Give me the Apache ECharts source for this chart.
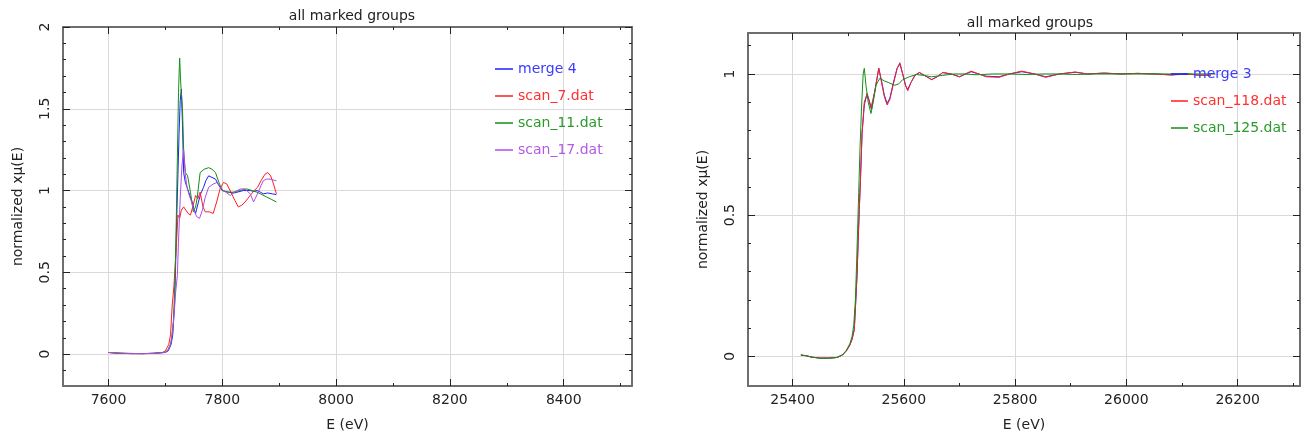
<!DOCTYPE html>
<html>
<head>
<meta charset="utf-8">
<script src="https://cdn.jsdelivr.net/npm/echarts@6/dist/echarts.min.js"></script>
<style>
html,body{margin:0;padding:0;background:#fff;}
#chart{width:1302px;height:437px;}
</style>
</head>
<body>
<div id="chart"></div>
<script>
// ---------- Left panel (Co K-edge region) ----------
const leftTitle = "all marked groups";
const leftXTicks = [7600, 7800, 8000, 8200, 8400];
const leftXMinor = [7600, 7700, 7800, 7900, 8000, 8100, 8200, 8300, 8400, 8500];
const leftYTicks = [0, 0.5, 1, 1.5, 2];
const leftYMinor = [-0.1, 0, 0.1, 0.2, 0.3, 0.4, 0.5, 0.6, 0.7, 0.8, 0.9, 1, 1.1, 1.2, 1.3, 1.4, 1.5, 1.6, 1.7, 1.8, 1.9, 2];

const merge4E = [7600,7620,7640,7660,7680,7700,7705,7710,7713,7716,7718,7720,7722,7724,7726,7728,7730,7732,7735,7738,7741,7744,7747,7750,7753,7758,7762,7767,7771,7776,7782,7788,7794,7800,7811,7820,7826,7837,7849,7855,7861,7867,7872,7880,7888,7895];
const merge4V = [0.01,0.005,0.003,0.003,0.005,0.01,0.02,0.06,0.12,0.3,0.55,0.85,1.1,1.35,1.55,1.62,1.4,1.11,1.05,1.02,0.99,0.96,0.93,0.89,0.86,0.93,0.98,1.02,1.06,1.09,1.08,1.07,1.03,1.0,0.99,0.985,0.99,1.0,1.0,0.995,1.0,0.99,0.98,0.985,0.98,0.975];

const scan7E = [7600,7620,7640,7660,7680,7695,7700,7703,7706,7709,7712,7715,7719,7722,7725,7728,7732,7736,7740,7744,7748,7753,7757,7761,7766,7770,7777,7784,7790,7796,7802,7808,7815,7822,7828,7834,7840,7849,7856,7862,7868,7875,7880,7885,7890,7895];
const scan7V = [0.01,0.005,0.003,0.003,0.005,0.01,0.02,0.03,0.06,0.12,0.3,0.42,0.65,0.85,0.83,0.88,0.9,0.88,0.86,0.85,0.9,0.97,0.95,0.99,0.9,0.87,0.87,0.86,0.93,1.01,1.05,1.04,0.99,0.94,0.9,0.91,0.93,0.97,1.0,1.02,1.06,1.1,1.11,1.09,1.04,0.98];

const scan11E = [7600,7620,7640,7660,7680,7700,7705,7710,7714,7717,7719,7721,7723,7725,7727,7730,7732,7735,7739,7744,7749,7753,7756,7761,7768,7776,7782,7788,7794,7800,7810,7819,7830,7843,7852,7861,7870,7878,7887,7895];
const scan11V = [0.01,0.005,0.004,0.003,0.005,0.012,0.03,0.07,0.2,0.45,0.8,1.2,1.6,1.81,1.65,1.5,1.25,1.11,1.09,0.99,0.87,0.9,0.96,1.11,1.13,1.14,1.13,1.11,1.05,1.0,0.99,0.99,1.0,1.01,1.0,0.99,0.975,0.96,0.945,0.93];

const scan17E = [7600,7620,7640,7660,7680,7700,7705,7709,7713,7716,7718,7721,7723,7726,7729,7732,7735,7738,7741,7746,7750,7755,7760,7765,7770,7776,7784,7791,7797,7802,7808,7814,7820,7826,7833,7840,7849,7855,7863,7868,7872,7878,7884,7889,7895];
const scan17V = [0.01,0.006,0.004,0.003,0.004,0.01,0.025,0.06,0.15,0.28,0.38,0.48,0.69,0.95,1.15,1.25,1.1,1.02,0.98,0.93,0.88,0.84,0.83,0.88,0.96,1.02,1.04,1.05,1.02,1.0,0.985,0.97,0.985,1.0,1.01,1.01,0.98,0.93,0.99,1.03,1.06,1.07,1.07,1.065,1.06];

// ---------- Right panel (Sb K-edge region) ----------
const rightTitle = "all marked groups";
const rightXTicks = [25400, 25600, 25800, 26000, 26200];
const rightXMinor = [25400, 25500, 25600, 25700, 25800, 25900, 26000, 26100, 26200, 26300];
const rightYTicks = [0, 0.5, 1];
const rightYMinor = [0, 0.1, 0.2, 0.3, 0.4, 0.5, 0.6, 0.7, 0.8, 0.9, 1, 1.1];

const merge3E = [25415,25425,25435,25450,25465,25480,25490,25497,25503,25507,25511,25513,25516,25518,25520,25522,25525,25529,25534,25538,25542,25548,25555,25560,25565,25570,25575,25582,25588,25593,25598,25603,25607,25613,25620,25628,25637,25650,25660,25670,25685,25700,25721,25748,25771,25790,25812,25835,25855,25880,25908,25930,25960,25990,26020,26050,26080,26110,26130,26152];
const merge3V = [0.005,0.002,-0.003,-0.006,-0.006,-0.004,0.005,0.02,0.04,0.06,0.095,0.17,0.29,0.41,0.52,0.62,0.79,0.89,0.93,0.905,0.875,0.94,1.02,0.975,0.925,0.895,0.915,0.975,1.02,1.035,1.0,0.96,0.945,0.97,0.995,1.005,0.995,0.98,0.99,1.005,1.0,0.99,1.008,0.992,0.99,1.0,1.008,1.0,0.99,1.0,1.006,1.0,1.003,1.0,1.002,1.0,0.997,1.0,0.996,0.996];

const scan118E = [25415,25425,25435,25450,25465,25480,25490,25497,25503,25507,25511,25513,25516,25518,25520,25522,25525,25529,25534,25538,25541,25548,25555,25560,25565,25570,25575,25582,25588,25593,25598,25603,25607,25613,25620,25628,25637,25650,25660,25670,25685,25700,25721,25748,25771,25790,25812,25835,25855,25880,25908,25930,25960,25990,26020,26050,26080,26110,26130,26152];
const scan118V = [0.005,0.002,-0.003,-0.006,-0.006,-0.004,0.005,0.02,0.04,0.06,0.095,0.17,0.29,0.41,0.52,0.62,0.79,0.9,0.93,0.9,0.88,0.94,1.02,0.97,0.92,0.89,0.91,0.97,1.02,1.04,1.0,0.96,0.94,0.97,0.995,1.005,0.995,0.98,0.99,1.005,1.0,0.99,1.01,0.99,0.988,1.0,1.01,1.0,0.988,1.0,1.007,1.0,1.003,1.0,1.002,1.0,0.996,1.0,0.995,0.995];

const scan125E = [25415,25425,25435,25450,25465,25480,25490,25497,25503,25507,25510,25513,25515,25517,25519,25521,25524,25527,25529,25532,25536,25541,25545,25550,25557,25565,25572,25584,25591,25598,25610,25623,25635,25650,25670,25690,25710,25730,25760,25790,25820,25850,25880,25910,25940,25970,26000,26030,26060,26090,26120,26160];
const scan125V = [0.004,0.002,-0.003,-0.007,-0.007,-0.004,0.006,0.022,0.045,0.07,0.11,0.2,0.32,0.45,0.58,0.72,0.88,1.0,1.02,0.96,0.9,0.86,0.9,0.96,0.985,0.975,0.97,0.96,0.965,0.98,0.99,0.998,0.995,0.99,0.995,1.0,1.0,0.997,1.0,1.0,0.998,1.0,1.0,0.998,1.0,1.0,1.0,1.0,1.0,1.0,1.0,1.0];

// ---------- Styling ----------
const FONT = "DejaVu Sans";
const FS = 14;
const TXT = "#222";
const C_BLUE = "#1f1fff", C_RED = "#ff1f1f", C_GREEN = "#148f14", C_PURPLE = "#b04ce8";

function zip(xs, ys) { return xs.map((x, i) => [x, ys[i]]); }
function fmt(v) { return String(v); }

function mainX(grid, min, max, ticks, pos, withLabel, name) {
  return {
    type: 'value', gridIndex: grid, position: pos, min: min, max: max,
    axisLine: { show: true, onZero: false, lineStyle: { color: '#6e6e6e', width: 2 } },
    axisTick: { show: true, inside: true, length: 7, customValues: ticks, lineStyle: { color: '#222', width: 1 } },
    axisLabel: { show: withLabel, customValues: ticks, margin: 7, color: TXT, fontFamily: FONT, fontSize: FS, formatter: fmt },
    splitLine: { show: withLabel, lineStyle: { color: '#d9d9d9', width: 1 } },
    name: name || '', nameLocation: 'middle', nameGap: 32,
    nameTextStyle: { color: TXT, fontFamily: FONT, fontSize: FS }
  };
}
function minorX(grid, min, max, ticks, pos) {
  return {
    type: 'value', gridIndex: grid, position: pos, min: min, max: max,
    axisLine: { show: false, onZero: false },
    axisTick: { show: true, inside: true, length: 3, customValues: ticks, lineStyle: { color: '#222', width: 1 } },
    axisLabel: { show: false }, splitLine: { show: false }
  };
}
function mainY(grid, min, max, ticks, pos, withLabel, name) {
  return {
    type: 'value', gridIndex: grid, position: pos, min: min, max: max,
    axisLine: { show: true, onZero: false, lineStyle: { color: '#6e6e6e', width: 2 } },
    axisTick: { show: true, inside: true, length: 7, customValues: ticks, lineStyle: { color: '#222', width: 1 } },
    axisLabel: { show: withLabel, customValues: ticks, rotate: 90, margin: 11, color: TXT, fontFamily: FONT, fontSize: FS, formatter: fmt },
    splitLine: { show: withLabel, lineStyle: { color: '#d9d9d9', width: 1 } },
    name: name || '', nameLocation: 'middle', nameGap: 38, nameRotate: 90,
    nameTextStyle: { color: TXT, fontFamily: FONT, fontSize: FS }
  };
}
function minorY(grid, min, max, ticks, pos) {
  return {
    type: 'value', gridIndex: grid, position: pos, min: min, max: max,
    axisLine: { show: false, onZero: false },
    axisTick: { show: true, inside: true, length: 3, customValues: ticks, lineStyle: { color: '#222', width: 1 } },
    axisLabel: { show: false }, splitLine: { show: false }
  };
}

const LX = [7520, 8520], LY = [-0.195, 2.0];
const RX = [25320, 26312], RY = [-0.105, 1.145];

const xAxes = [
  mainX(0, LX[0], LX[1], leftXTicks, 'bottom', true, 'E (eV)'),
  minorX(0, LX[0], LX[1], leftXMinor, 'bottom'),
  mainX(0, LX[0], LX[1], leftXTicks, 'top', false),
  minorX(0, LX[0], LX[1], leftXMinor, 'top'),
  mainX(1, RX[0], RX[1], rightXTicks, 'bottom', true, 'E (eV)'),
  minorX(1, RX[0], RX[1], rightXMinor, 'bottom'),
  mainX(1, RX[0], RX[1], rightXTicks, 'top', false),
  minorX(1, RX[0], RX[1], rightXMinor, 'top')
];
const yAxes = [
  mainY(0, LY[0], LY[1], leftYTicks, 'left', true, 'normalized xμ(E)'),
  minorY(0, LY[0], LY[1], leftYMinor, 'left'),
  mainY(0, LY[0], LY[1], leftYTicks, 'right', false),
  minorY(0, LY[0], LY[1], leftYMinor, 'right'),
  mainY(1, RY[0], RY[1], rightYTicks, 'left', true, 'normalized xμ(E)'),
  minorY(1, RY[0], RY[1], rightYMinor, 'left'),
  mainY(1, RY[0], RY[1], rightYTicks, 'right', false),
  minorY(1, RY[0], RY[1], rightYMinor, 'right')
];

function line(name, xs, ys, color, xi, yi) {
  return {
    name: name, type: 'line', xAxisIndex: xi, yAxisIndex: yi,
    data: zip(xs, ys), showSymbol: false, symbol: 'none',
    lineStyle: { color: color, width: 1 }, itemStyle: { color: color },
    silent: true
  };
}

const legendBase = {
  orient: 'vertical', icon: 'rect', itemWidth: 18, itemHeight: 1.5, itemGap: 13,
  textStyle: { fontFamily: FONT, fontSize: FS }, selectedMode: false
};

const option = {
  animation: false,
  backgroundColor: '#ffffff',
  title: [
    { text: leftTitle, left: 347, top: 4, textAlign: 'center',
      textStyle: { color: TXT, fontFamily: FONT, fontSize: FS, fontWeight: 'normal' } },
    { text: rightTitle, left: 1025, top: 11, textAlign: 'center',
      textStyle: { color: TXT, fontFamily: FONT, fontSize: FS, fontWeight: 'normal' } }
  ],
  grid: [
    { left: 63, top: 27, width: 569, height: 362 },
    { left: 748, top: 33, width: 552, height: 356 }
  ],
  legend: [
    Object.assign({}, legendBase, { left: 490, top: 57,
      data: [
        { name: 'merge 4', textStyle: { color: '#3b3bff' } },
        { name: 'scan_7.dat', textStyle: { color: '#ff3030' } },
        { name: 'scan_11.dat', textStyle: { color: '#2a9a2a' } },
        { name: 'scan_17.dat', textStyle: { color: '#b35ae6' } }
      ] }),
    Object.assign({}, legendBase, { left: 1166, top: 62, itemWidth: 17,
      data: [
        { name: 'merge 3', textStyle: { color: '#3b3bff' } },
        { name: 'scan_118.dat', textStyle: { color: '#ff3030' } },
        { name: 'scan_125.dat', textStyle: { color: '#2a9a2a' } }
      ] })
  ],
  xAxis: xAxes,
  yAxis: yAxes,
  series: [
    line('merge 4', merge4E, merge4V, C_BLUE, 0, 0),
    line('scan_7.dat', scan7E, scan7V, C_RED, 0, 0),
    line('scan_11.dat', scan11E, scan11V, C_GREEN, 0, 0),
    line('scan_17.dat', scan17E, scan17V, C_PURPLE, 0, 0),
    line('merge 3', merge3E, merge3V, C_BLUE, 4, 4),
    line('scan_118.dat', scan118E, scan118V, C_RED, 4, 4),
    line('scan_125.dat', scan125E, scan125V, C_GREEN, 4, 4)
  ]
};

const chart = echarts.init(document.getElementById('chart'), null, { renderer: 'canvas' });
chart.setOption(option);
</script>
</body>
</html>
